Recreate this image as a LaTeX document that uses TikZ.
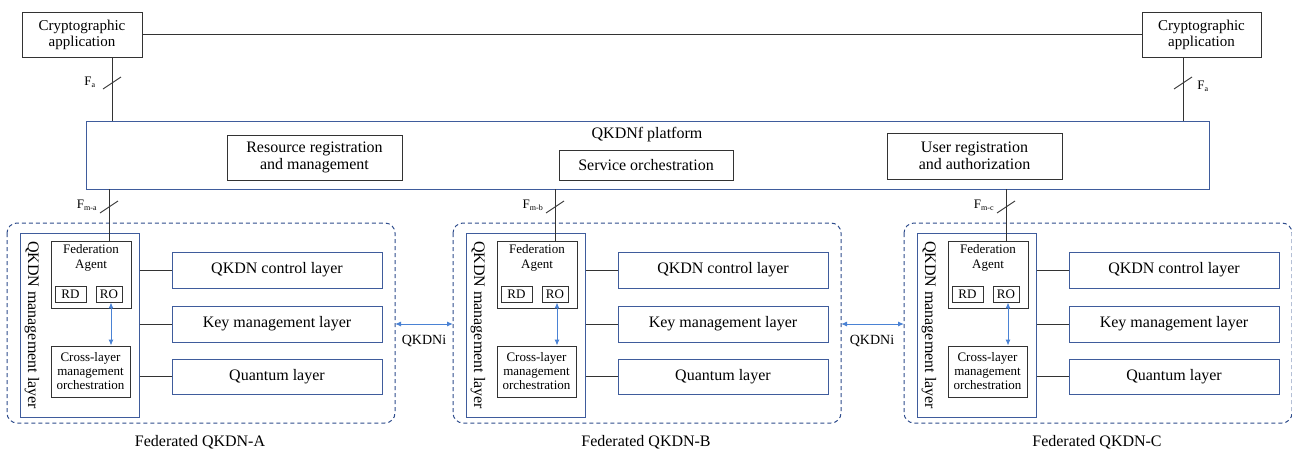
\documentclass[tikz,border=0pt]{standalone}
\usepackage{fontspec}
\setmainfont{Liberation Serif}
\usetikzlibrary{arrows.meta}
\definecolor{bxblue}{HTML}{3F5C9C}
\definecolor{dashblue}{HTML}{2E4C8C}
\definecolor{arrblue}{HTML}{4A82D4}
\definecolor{gbox}{HTML}{333333}
\tikzset{
  gbox/.style={draw=gbox,line width=0.9pt,inner sep=0pt,align=center,font=\fontsize{15}{16}\selectfont},
  bbox/.style={draw=bxblue,line width=1pt,inner sep=0pt,align=center,font=\fontsize{16}{17}\selectfont},
  sbox/.style={draw=gbox,line width=0.9pt,inner sep=0pt,align=center,font=\fontsize{13}{14}\selectfont},
  cluster/.style={draw=dashblue,line width=1pt,dash pattern=on 4pt off 3pt,rounded corners=10pt},
  conn/.style={draw=gbox,line width=0.9pt},
  barrow/.style={draw=arrblue,line width=1pt,{Latex[length=6pt,width=5pt]}-{Latex[length=6pt,width=5pt]}},
  lbl/.style={inner sep=0pt,font=\fontsize{16}{17}\selectfont},
  flbl/.style={inner sep=0pt,font=\fontsize{13}{14}\selectfont},
}
\newcommand{\Fsub}[1]{F\textsubscript{\fontsize{8}{8}\selectfont #1}}
\begin{document}
\begin{tikzpicture}[x=1pt,y=-1pt]
\useasboundingbox (0,0) rectangle (1292,453);
% top
\node[gbox,minimum width=120pt,minimum height=45pt] (ca1) at (82,34.5) {Cryptographic\\application};
\node[gbox,minimum width=119pt,minimum height=45pt] (ca2) at (1201.5,34.5) {Cryptographic\\application};
\draw[conn] (ca1.east) -- (ca2.west);
% platform
\node[draw=bxblue,line width=1pt,minimum width=1123pt,minimum height=68pt,inner sep=0pt] (plat) at (647.5,155) {};
\node[lbl] (pt) at (647,135) {QKDNf platform};
\node[gbox,font=\fontsize{16}{17}\selectfont,minimum width=175pt,minimum height=45pt] (res) at (314.5,157.5) {Resource registration\\and management};
\node[gbox,font=\fontsize{16}{17}\selectfont,minimum width=174pt,minimum height=30pt] (svc) at (646,165) {Service orchestration};
\node[gbox,font=\fontsize{16}{17}\selectfont,minimum width=175pt,minimum height=46pt] (usr) at (974.5,156) {User registration\\and authorization};
% Fa connections
\coordinate (pa1) at (112,121);
\coordinate (pa2) at (1183,121);
\draw[conn] (ca1.south -| pa1) -- (pa1);
\draw[conn] (ca2.south -| pa2) -- (pa2);
\draw[conn] (103,89) -- (121,77);
\draw[conn] (1174,89) -- (1192,77);
\node[flbl] (fa1) at (90,82) {\Fsub{a}};
\node[flbl] (fa2) at (1203,86) {\Fsub{a}};
% clusters
\foreach \dx/\nm/\sl/\fs in {0/A/a/{m-a},446/B/b/{m-b},897/C/c/{m-c}}{
  \begin{scope}[xshift=\dx]
  \draw[cluster] (7,223) rectangle (395,423);
  \node[draw=bxblue,line width=1pt,minimum width=119pt,minimum height=184pt,inner sep=0pt] (mg\nm) at (79.5,325) {};
  \node[lbl,rotate=-90] (mgt\nm) at (32,325) {QKDN management layer};
  \node[sbox,minimum width=80pt,minimum height=67pt] (fa\nm) at (91,274.5) {};
  \node[flbl,align=center,font=\fontsize{13}{14.5}\selectfont] (fat\nm) at (91,258) {Federation\\Agent};
  \node[sbox,minimum width=31pt,minimum height=16pt] (rd\nm) at (70.5,294) {RD};
  \node[sbox,minimum width=26pt,minimum height=16pt] (ro\nm) at (109,294) {RO};
  \node[sbox,minimum width=79pt,minimum height=51pt] (cr\nm) at (90.5,371.5) {Cross-layer\\management\\orchestration};
  \draw[barrow] (ro\nm.south -| 111,0) -- (cr\nm.north -| 111,0);
  \node[bbox,minimum width=210pt,minimum height=36pt] (ctl\nm) at (277,270) {QKDN control layer};
  \node[bbox,minimum width=210pt,minimum height=36pt] (km\nm) at (277,324) {Key management layer};
  \node[bbox,minimum width=210pt,minimum height=35pt] (ql\nm) at (277,376.5) {Quantum layer};
  \draw[conn] (mg\nm.east |- ctl\nm) -- (ctl\nm.west);
  \draw[conn] (mg\nm.east |- km\nm) -- (km\nm.west);
  \draw[conn] (mg\nm.east |- ql\nm) -- (ql\nm.west);
  \node[lbl] (fl\nm) at (200,442) {Federated QKDN-\nm};
  \coordinate (pm\nm) at (109,189);
  \draw[conn] (pm\nm) -- (fa\nm.north -| pm\nm);
  \draw[conn] (100,213) -- (118,201);
  \node[flbl] (fm\nm) at (87,205) {\Fsub{\fs}};
  \end{scope}
}
% QKDNi arrows
\coordinate (qa1) at (395,324);
\coordinate (qb1) at (453,324);
\coordinate (qb2) at (841,324);
\coordinate (qc2) at (904,324);
\draw[barrow] (qa1) -- (qb1);
\draw[barrow] (qb2) -- (qc2);
\node[flbl,font=\fontsize{14}{15}\selectfont] (qi1) at (424,341) {QKDNi};
\node[flbl,font=\fontsize{14}{15}\selectfont] (qi2) at (872,341) {QKDNi};
\end{tikzpicture}
\end{document}
